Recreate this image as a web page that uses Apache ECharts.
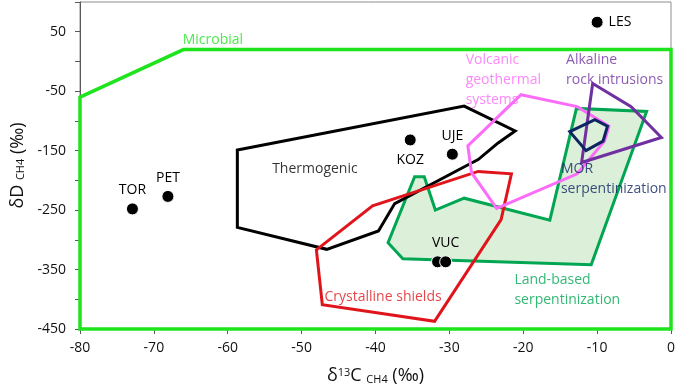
<!DOCTYPE html>
<html>
<head>
<meta charset="utf-8">
<script src="https://cdn.jsdelivr.net/npm/echarts@6/dist/echarts.min.js"></script>
<style>
html,body{margin:0;padding:0;background:#fff;}
#chart{width:678px;height:390px;}
</style>
</head>
<body>
<div id="chart"></div>
<script>
// field outlines, [d13C, dD] pairs
var microbial = [[-80, -60], [-66, 20], [0, 20], [0, -450], [-80, -450]];
var thermogenic = [[-58.7, -149], [-28, -75], [-21.1, -117], [-23.4, -137], [-26.1, -165], [-27.2, -172],
	[-37.4, -239], [-39.6, -285], [-46.6, -316], [-58.7, -279]];
var crystalline = [[-48, -317], [-40.4, -243], [-26.1, -185], [-21.6, -189], [-23, -266], [-32, -437], [-47.2, -409]];
var landBased = [[-34.7, -194], [-33.4, -194], [-31.9, -250], [-28, -230], [-16.4, -267], [-12.8, -79],
	[-3.3, -84], [-10.8, -342], [-36.3, -332], [-38.3, -305]];
var volcanic = [[-20.3, -56], [-12.7, -76], [-8.4, -109], [-9, -134], [-12.7, -189], [-23.6, -247], [-27, -187], [-27.5, -142]];
var alkaline = [[-10.6, -37], [-5.4, -76], [-1.3, -128], [-12.1, -170]];
var mor = [[-13.7, -118], [-10.3, -98], [-8.6, -109], [-9.2, -134], [-11.5, -150]];

// sample sites
var sampleNames = ['LES', 'KOZ', 'UJE', 'TOR', 'PET', '', 'VUC'];
var sampleC = [-10, -35.3, -29.6, -72.9, -68.1, -31.6, -30.5];
var sampleD = [66, -132, -156, -248, -227, -337, -337];
var sampleLabelPos = ['right', 'bottom', 'top', 'top', 'top', 'top', 'top'];

// field names (text, anchor point in data units)
var fieldNames = ['Microbial', 'Thermogenic', 'Crystalline shields', 'Land-based\nserpentinization',
	'Volcanic\ngeothermal\nsystems', 'Alkaline\nrock intrusions', 'MOR\nserpentinization'];
var fieldNameC = [-66.1, -48.2, -46.9, -21.2, -27.8, -14.2, -14.9];
var fieldNameD = [35.6, -181.5, -396.5, -384.2, -30.7, -14.1, -197.6];

var xTicks = {min: -80, max: 0, interval: 10};
var yTicks = {min: -450, max: 100, interval: 50};

var FONT = 'Open Sans';
var fieldColors = ['#1ee41e', '#000000', '#e0151b', '#00a651', '#fb6cf9', '#7030a0', '#0c2461'];
var fieldAlign = ['left', 'center', 'left', 'left', 'left', 'left', 'left'];

function polygon(name, pts, stroke, fill, width, z)
{
	return {
		type: 'custom',
		name: name,
		data: pts,
		encode: {x: 0, y: 1},
		clip: false,
		silent: true,
		z: z,
		renderItem: function(params, api) {
			if (params.dataIndex !== 0) {
				return;
			}
			var points = [];
			for (var i = 0; i < pts.length; i++) {
				points.push(api.coord(pts[i]));
			}
			return {
				type: 'polygon',
				shape: {points: points},
				style: {fill: fill || 'none', stroke: stroke, lineWidth: width, lineJoin: 'miter'}
			};
		}
	};
}

var sampleData = [];
for (var i = 0; i < sampleNames.length; i++) {
	sampleData.push({
		value: [sampleC[i], sampleD[i]],
		label: {show: sampleNames[i] !== '', position: sampleLabelPos[i], distance: sampleLabelPos[i] == 'bottom' ? 7 : 5}
	});
}

var fieldData = [];
for (var i = 0; i < fieldNames.length; i++) {
	fieldData.push({
		value: [fieldNameC[i], fieldNameD[i]],
		label: {color: fieldColors[i], align: fieldAlign[i]}
	});
}

var option = {
	animation: false,
	backgroundColor: '#fff',
	grid: {left: 80, right: 7, top: 2, bottom: 56, show: true, borderColor: '#8c8c8c', borderWidth: 1},
	xAxis: {
		type: 'value',
		min: xTicks.min, max: xTicks.max, interval: xTicks.interval,
		name: 'δ{sup|13}C {sub|CH4} (‰)',
		nameLocation: 'middle',
		nameGap: 38,
		nameTextStyle: {
			fontFamily: FONT, fontSize: 18, color: '#111',
			rich: {
				sup: {fontFamily: FONT, fontSize: 11, color: '#111', lineHeight: 11, verticalAlign: 'top'},
				sub: {fontFamily: FONT, fontSize: 11, color: '#111', lineHeight: 11, verticalAlign: 'bottom'}
			}
		},
		axisLine: {show: true, onZero: false, lineStyle: {color: '#595959', width: 1}},
		axisTick: {show: true, inside: false, length: 5, lineStyle: {color: '#595959'}},
		axisLabel: {fontFamily: FONT, fontSize: 14, color: '#111', margin: 12},
		splitLine: {show: false}
	},
	yAxis: {
		type: 'value',
		min: yTicks.min, max: yTicks.max, interval: yTicks.interval,
		name: 'δD {sub|CH4} (‰)',
		nameLocation: 'middle',
		nameRotate: 90,
		nameGap: 45,
		nameTextStyle: {
			fontFamily: FONT, fontSize: 18, color: '#111',
			rich: {
				sub: {fontFamily: FONT, fontSize: 11, color: '#111', lineHeight: 11, verticalAlign: 'bottom'}
			}
		},
		axisLine: {show: true, onZero: false, lineStyle: {color: '#595959', width: 1}},
		axisTick: {show: true, inside: false, length: 5, lineStyle: {color: '#595959'}},
		axisLabel: {
			fontFamily: FONT, fontSize: 14, color: '#111', margin: 14,
			// only every second tick carries a number
			formatter: function(v) {
				return (v - yTicks.min) % 100 === 0 ? String(v) : '';
			}
		},
		splitLine: {show: false}
	},
	series: [
		polygon('Microbial', microbial, fieldColors[0], null, 3.5, 2),
		polygon('Land-based serpentinization', landBased, fieldColors[3], '#dcefd9', 3, 3),
		polygon('Thermogenic', thermogenic, fieldColors[1], null, 3, 4),
		polygon('Crystalline shields', crystalline, fieldColors[2], null, 3, 5),
		polygon('Volcanic geothermal systems', volcanic, fieldColors[4], null, 3, 6),
		polygon('Alkaline rock intrusions', alkaline, fieldColors[5], null, 3, 7),
		polygon('MOR serpentinization', mor, fieldColors[6], null, 3, 8),
		{
			type: 'scatter',
			name: 'samples',
			data: sampleData,
			symbol: 'circle',
			symbolSize: 12,
			z: 10,
			silent: true,
			itemStyle: {color: '#000', opacity: 1, borderColor: '#fff', borderWidth: 1},
			label: {fontFamily: FONT, fontSize: 14, color: '#000', formatter: function(p) { return sampleNames[p.dataIndex]; }}
		},
		{
			type: 'scatter',
			name: 'fields',
			data: fieldData,
			symbolSize: 0,
			z: 11,
			silent: true,
			label: {
				show: true, position: 'inside', fontFamily: FONT, fontSize: 14, lineHeight: 20,
				verticalAlign: 'middle',
				formatter: function(p) { return fieldNames[p.dataIndex]; }
			}
		}
	]
};

var chart = echarts.init(document.getElementById('chart'), null, {renderer: 'canvas'});
chart.setOption(option);
</script>
</body>
</html>
